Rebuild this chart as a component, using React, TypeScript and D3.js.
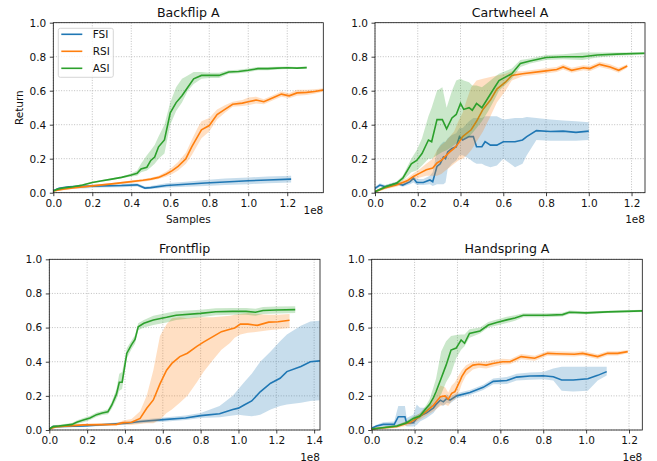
import React, { useEffect, useRef } from "react";
import * as d3 from "d3";

// [samples (1e8), mean return, lower, upper]
type Pt = [number, number, number, number];

const seriesNames = ["FSI", "RSI", "ASI"];
const seriesColors = ["#1f77b4", "#ff7f0e", "#2ca02c"];
const panelTitles = ["Backflip A", "Cartwheel A", "Frontflip", "Handspring A"];
const panelXMax = [1.385, 1.263, 1.431, 1.262];
const yTicks = [0, 0.2, 0.4, 0.6, 0.8, 1.0];

const backflipFSI: Pt[] = [
  [0, 0.012, 0.008, 0.016], [0.03, 0.026, 0.02, 0.032], [0.08, 0.034, 0.028, 0.04],
  [0.15, 0.037, 0.025, 0.045], [0.25, 0.04, 0.03, 0.05], [0.35, 0.042, 0.032, 0.052],
  [0.43, 0.046, 0.036, 0.056], [0.47, 0.027, 0.02, 0.036], [0.5, 0.03, 0.022, 0.04],
  [0.58, 0.042, 0.03, 0.055], [0.68, 0.05, 0.035, 0.065], [0.78, 0.057, 0.04, 0.075],
  [0.88, 0.063, 0.045, 0.083], [1.0, 0.07, 0.05, 0.09], [1.1, 0.075, 0.055, 0.095],
  [1.22, 0.08, 0.06, 0.1],
];
const backflipRSI: Pt[] = [
  [0, 0.01, 0.005, 0.015], [0.05, 0.02, 0.015, 0.025], [0.1, 0.028, 0.022, 0.034],
  [0.2, 0.04, 0.035, 0.045], [0.3, 0.052, 0.047, 0.057], [0.4, 0.065, 0.058, 0.072],
  [0.46, 0.073, 0.065, 0.08], [0.5, 0.08, 0.072, 0.088], [0.54, 0.09, 0.08, 0.1],
  [0.58, 0.11, 0.095, 0.125], [0.61, 0.13, 0.11, 0.15], [0.64, 0.155, 0.13, 0.18],
  [0.68, 0.2, 0.17, 0.235], [0.71, 0.27, 0.22, 0.31], [0.74, 0.33, 0.28, 0.38],
  [0.76, 0.37, 0.32, 0.42], [0.8, 0.395, 0.36, 0.44], [0.84, 0.46, 0.43, 0.49],
  [0.88, 0.49, 0.47, 0.515], [0.92, 0.52, 0.505, 0.535], [0.97, 0.527, 0.51, 0.545],
  [1.0, 0.535, 0.515, 0.56], [1.04, 0.545, 0.525, 0.565], [1.08, 0.535, 0.52, 0.55],
  [1.13, 0.56, 0.545, 0.575], [1.17, 0.58, 0.565, 0.595], [1.21, 0.57, 0.555, 0.585],
  [1.25, 0.587, 0.57, 0.605], [1.3, 0.59, 0.575, 0.605], [1.34, 0.595, 0.582, 0.608],
  [1.39, 0.605, 0.595, 0.615],
];
const backflipASI: Pt[] = [
  [0, 0.01, 0.005, 0.015], [0.02, 0.02, 0.015, 0.025], [0.05, 0.028, 0.022, 0.034],
  [0.1, 0.035, 0.03, 0.04], [0.15, 0.045, 0.04, 0.05], [0.2, 0.06, 0.055, 0.065],
  [0.25, 0.07, 0.065, 0.075], [0.3, 0.08, 0.075, 0.085], [0.35, 0.09, 0.085, 0.095],
  [0.4, 0.104, 0.095, 0.113], [0.43, 0.114, 0.1, 0.13], [0.45, 0.14, 0.12, 0.17],
  [0.48, 0.15, 0.13, 0.22], [0.5, 0.19, 0.15, 0.25], [0.52, 0.21, 0.17, 0.28],
  [0.54, 0.27, 0.2, 0.33], [0.57, 0.31, 0.23, 0.4], [0.6, 0.47, 0.4, 0.53],
  [0.63, 0.53, 0.48, 0.62], [0.66, 0.57, 0.53, 0.67], [0.69, 0.62, 0.6, 0.69],
  [0.72, 0.67, 0.64, 0.71], [0.76, 0.69, 0.67, 0.71], [0.8, 0.69, 0.675, 0.705],
  [0.85, 0.69, 0.675, 0.705], [0.9, 0.71, 0.7, 0.72], [0.95, 0.713, 0.703, 0.723],
  [1.0, 0.72, 0.71, 0.73], [1.05, 0.73, 0.72, 0.74], [1.1, 0.73, 0.72, 0.74],
  [1.15, 0.733, 0.725, 0.741], [1.2, 0.735, 0.727, 0.743], [1.25, 0.733, 0.727, 0.739],
  [1.3, 0.736, 0.73, 0.742],
];

const cartwheelFSI: Pt[] = [
  [0, 0.025, 0.015, 0.035], [0.023, 0.045, 0.035, 0.055], [0.047, 0.035, 0.025, 0.045],
  [0.1, 0.055, 0.045, 0.065], [0.13, 0.045, 0.035, 0.06], [0.164, 0.065, 0.05, 0.08],
  [0.18, 0.085, 0.06, 0.1], [0.195, 0.06, 0.045, 0.08], [0.226, 0.06, 0.045, 0.08],
  [0.257, 0.075, 0.05, 0.1], [0.27, 0.065, 0.04, 0.12], [0.29, 0.155, 0.05, 0.25],
  [0.305, 0.17, 0.05, 0.28], [0.32, 0.21, 0.05, 0.3], [0.33, 0.2, 0.06, 0.3],
  [0.34, 0.24, 0.14, 0.32], [0.36, 0.26, 0.17, 0.34], [0.38, 0.27, 0.19, 0.35],
  [0.395, 0.33, 0.22, 0.38], [0.41, 0.31, 0.22, 0.38], [0.44, 0.33, 0.2, 0.42],
  [0.46, 0.33, 0.18, 0.44], [0.475, 0.27, 0.17, 0.44], [0.5, 0.27, 0.17, 0.44],
  [0.515, 0.3, 0.16, 0.45], [0.54, 0.28, 0.15, 0.45], [0.57, 0.28, 0.16, 0.45],
  [0.6, 0.3, 0.2, 0.43], [0.655, 0.3, 0.15, 0.44], [0.69, 0.31, 0.17, 0.44],
  [0.71, 0.33, 0.22, 0.445], [0.755, 0.365, 0.31, 0.44], [0.82, 0.36, 0.305, 0.43],
  [0.88, 0.362, 0.305, 0.425], [0.94, 0.355, 0.305, 0.42], [1.0, 0.362, 0.31, 0.415],
];
const cartwheelRSI: Pt[] = [
  [0, 0.006, 0, 0.012], [0.05, 0.03, 0.02, 0.04], [0.1, 0.045, 0.035, 0.055],
  [0.15, 0.07, 0.055, 0.085], [0.18, 0.095, 0.075, 0.115], [0.21, 0.115, 0.09, 0.14],
  [0.24, 0.135, 0.1, 0.17], [0.27, 0.145, 0.1, 0.2], [0.29, 0.175, 0.1, 0.25],
  [0.31, 0.19, 0.11, 0.28], [0.33, 0.215, 0.13, 0.3], [0.35, 0.24, 0.15, 0.33],
  [0.37, 0.26, 0.17, 0.36], [0.39, 0.29, 0.19, 0.42], [0.41, 0.33, 0.2, 0.47],
  [0.43, 0.35, 0.22, 0.55], [0.45, 0.37, 0.25, 0.62], [0.475, 0.42, 0.3, 0.66],
  [0.505, 0.49, 0.36, 0.67], [0.54, 0.545, 0.45, 0.68], [0.57, 0.61, 0.53, 0.69],
  [0.61, 0.65, 0.6, 0.7], [0.64, 0.69, 0.66, 0.715], [0.69, 0.7, 0.685, 0.715],
  [0.79, 0.715, 0.7, 0.73], [0.85, 0.725, 0.71, 0.74], [0.88, 0.74, 0.725, 0.755],
  [0.92, 0.72, 0.705, 0.735], [0.975, 0.735, 0.72, 0.75], [1.005, 0.73, 0.715, 0.745],
  [1.05, 0.755, 0.74, 0.77], [1.1, 0.74, 0.725, 0.755], [1.14, 0.72, 0.705, 0.735],
  [1.18, 0.745, 0.735, 0.755],
];
const cartwheelASI: Pt[] = [
  [0, 0.006, 0, 0.012], [0.05, 0.035, 0.025, 0.045], [0.1, 0.055, 0.045, 0.065],
  [0.13, 0.085, 0.07, 0.1], [0.17, 0.17, 0.12, 0.2], [0.195, 0.19, 0.13, 0.25],
  [0.22, 0.23, 0.16, 0.32], [0.25, 0.31, 0.2, 0.45], [0.265, 0.3, 0.2, 0.5],
  [0.29, 0.43, 0.22, 0.6], [0.315, 0.43, 0.24, 0.62], [0.335, 0.375, 0.25, 0.5],
  [0.36, 0.44, 0.27, 0.6], [0.38, 0.46, 0.29, 0.66], [0.4, 0.525, 0.31, 0.67],
  [0.415, 0.49, 0.32, 0.66], [0.44, 0.5, 0.33, 0.65], [0.455, 0.485, 0.35, 0.63],
  [0.475, 0.525, 0.38, 0.63], [0.5, 0.5, 0.42, 0.62], [0.53, 0.56, 0.48, 0.65],
  [0.56, 0.62, 0.55, 0.68], [0.58, 0.66, 0.6, 0.7], [0.64, 0.7, 0.67, 0.73],
  [0.68, 0.76, 0.74, 0.78], [0.725, 0.775, 0.76, 0.79], [0.8, 0.795, 0.78, 0.81],
  [0.88, 0.8, 0.785, 0.815], [0.97, 0.8, 0.78, 0.825], [1.04, 0.81, 0.795, 0.825],
  [1.13, 0.815, 0.805, 0.825], [1.26, 0.82, 0.812, 0.828],
];

const frontflipFSI: Pt[] = [
  [0, 0.006, 0, 0.012], [0.02, 0.02, 0.014, 0.026], [0.18, 0.023, 0.017, 0.029],
  [0.41, 0.04, 0.032, 0.048], [0.48, 0.05, 0.04, 0.06], [0.62, 0.062, 0.05, 0.075],
  [0.72, 0.07, 0.058, 0.085], [0.8, 0.084, 0.07, 0.1], [0.9, 0.095, 0.075, 0.14],
  [0.97, 0.12, 0.085, 0.2], [1.0, 0.128, 0.09, 0.24], [1.03, 0.146, 0.085, 0.28],
  [1.07, 0.17, 0.08, 0.33], [1.115, 0.224, 0.09, 0.4], [1.17, 0.274, 0.12, 0.46],
  [1.22, 0.303, 0.14, 0.52], [1.256, 0.342, 0.15, 0.56], [1.33, 0.372, 0.16, 0.61],
  [1.38, 0.4, 0.17, 0.635], [1.43, 0.405, 0.175, 0.64],
];
const frontflipRSI: Pt[] = [
  [0, 0.006, 0, 0.012], [0.04, 0.02, 0.013, 0.027], [0.18, 0.03, 0.023, 0.037],
  [0.355, 0.033, 0.026, 0.04], [0.39, 0.043, 0.032, 0.055], [0.435, 0.045, 0.03, 0.065],
  [0.48, 0.068, 0.035, 0.11], [0.515, 0.127, 0.04, 0.2], [0.55, 0.176, 0.04, 0.35],
  [0.585, 0.27, 0.06, 0.55], [0.62, 0.35, 0.1, 0.62], [0.648, 0.39, 0.12, 0.655],
  [0.69, 0.43, 0.16, 0.66], [0.73, 0.45, 0.2, 0.655], [0.78, 0.49, 0.28, 0.66],
  [0.815, 0.515, 0.34, 0.66], [0.865, 0.547, 0.41, 0.66], [0.91, 0.576, 0.47, 0.665],
  [0.955, 0.59, 0.51, 0.67], [0.98, 0.598, 0.54, 0.675], [1.01, 0.62, 0.56, 0.68],
  [1.05, 0.62, 0.57, 0.685], [1.1, 0.613, 0.575, 0.68], [1.16, 0.632, 0.585, 0.675],
  [1.21, 0.634, 0.59, 0.675], [1.27, 0.643, 0.598, 0.68],
];
const frontflipASI: Pt[] = [
  [0, 0.006, 0, 0.012], [0.02, 0.02, 0.012, 0.028], [0.05, 0.023, 0.015, 0.031],
  [0.12, 0.033, 0.025, 0.041], [0.145, 0.045, 0.035, 0.055], [0.18, 0.058, 0.045, 0.07],
  [0.215, 0.07, 0.058, 0.082], [0.25, 0.09, 0.078, 0.102], [0.28, 0.1, 0.088, 0.112],
  [0.31, 0.107, 0.092, 0.122], [0.33, 0.145, 0.125, 0.165], [0.355, 0.21, 0.18, 0.24],
  [0.37, 0.28, 0.23, 0.33], [0.385, 0.28, 0.24, 0.34], [0.41, 0.45, 0.42, 0.48],
  [0.435, 0.5, 0.475, 0.525], [0.453, 0.53, 0.505, 0.555], [0.47, 0.605, 0.585, 0.625],
  [0.5, 0.625, 0.6, 0.645], [0.55, 0.645, 0.615, 0.67], [0.62, 0.66, 0.63, 0.685],
  [0.67, 0.672, 0.645, 0.695], [0.8, 0.683, 0.66, 0.705], [0.88, 0.693, 0.672, 0.713],
  [0.97, 0.695, 0.675, 0.715], [1.04, 0.695, 0.675, 0.715], [1.09, 0.69, 0.67, 0.71],
  [1.13, 0.7, 0.68, 0.72], [1.2, 0.703, 0.683, 0.723], [1.3, 0.705, 0.685, 0.725],
];

const handspringFSI: Pt[] = [
  [0, 0.01, 0.003, 0.017], [0.023, 0.023, 0.015, 0.031], [0.054, 0.033, 0.02, 0.045],
  [0.105, 0.033, 0.02, 0.05], [0.124, 0.078, 0.03, 0.14], [0.155, 0.078, 0.03, 0.14],
  [0.163, 0.04, 0.02, 0.07], [0.194, 0.043, 0.02, 0.09], [0.21, 0.068, 0.03, 0.15],
  [0.225, 0.082, 0.05, 0.13], [0.256, 0.1, 0.07, 0.13], [0.288, 0.13, 0.1, 0.16],
  [0.3, 0.15, 0.12, 0.18], [0.32, 0.175, 0.15, 0.2], [0.334, 0.165, 0.14, 0.19],
  [0.35, 0.185, 0.16, 0.21], [0.365, 0.175, 0.155, 0.195], [0.396, 0.2, 0.185, 0.215],
  [0.458, 0.22, 0.205, 0.235], [0.52, 0.25, 0.235, 0.265], [0.567, 0.285, 0.268, 0.302],
  [0.63, 0.29, 0.27, 0.31], [0.676, 0.31, 0.29, 0.33], [0.738, 0.316, 0.295, 0.337],
  [0.8, 0.318, 0.297, 0.34], [0.847, 0.312, 0.29, 0.36], [0.886, 0.293, 0.23, 0.37],
  [0.94, 0.293, 0.225, 0.37], [1.008, 0.3, 0.23, 0.37], [1.054, 0.32, 0.29, 0.37],
  [1.096, 0.342, 0.32, 0.37],
];
const handspringRSI: Pt[] = [
  [0, 0.006, 0, 0.012], [0.117, 0.02, 0.012, 0.028], [0.18, 0.045, 0.03, 0.06],
  [0.225, 0.08, 0.06, 0.1], [0.256, 0.11, 0.085, 0.135], [0.288, 0.145, 0.11, 0.18],
  [0.32, 0.195, 0.14, 0.26], [0.342, 0.2, 0.15, 0.25], [0.357, 0.18, 0.14, 0.22],
  [0.373, 0.215, 0.17, 0.26], [0.388, 0.225, 0.18, 0.28], [0.41, 0.283, 0.23, 0.33],
  [0.42, 0.313, 0.27, 0.35], [0.44, 0.352, 0.32, 0.38], [0.472, 0.38, 0.355, 0.4],
  [0.5, 0.385, 0.365, 0.402], [0.534, 0.38, 0.36, 0.4], [0.565, 0.39, 0.37, 0.41],
  [0.61, 0.4, 0.383, 0.417], [0.645, 0.4, 0.385, 0.415], [0.697, 0.43, 0.415, 0.445],
  [0.76, 0.42, 0.405, 0.435], [0.82, 0.449, 0.435, 0.463], [0.863, 0.447, 0.433, 0.461],
  [0.945, 0.444, 0.43, 0.458], [0.984, 0.449, 0.435, 0.463], [1.054, 0.43, 0.416, 0.444],
  [1.1, 0.449, 0.437, 0.461], [1.147, 0.449, 0.437, 0.461], [1.194, 0.459, 0.449, 0.469],
];
const handspringASI: Pt[] = [
  [0, 0.006, 0, 0.012], [0.117, 0.023, 0.015, 0.031], [0.163, 0.043, 0.033, 0.053],
  [0.194, 0.068, 0.055, 0.08], [0.225, 0.082, 0.068, 0.096], [0.256, 0.13, 0.11, 0.15],
  [0.27, 0.15, 0.125, 0.18], [0.288, 0.19, 0.16, 0.25], [0.3, 0.224, 0.18, 0.3],
  [0.324, 0.303, 0.21, 0.46], [0.347, 0.38, 0.28, 0.52], [0.37, 0.468, 0.33, 0.55],
  [0.394, 0.48, 0.42, 0.557], [0.417, 0.527, 0.47, 0.56], [0.433, 0.508, 0.49, 0.56],
  [0.456, 0.566, 0.54, 0.59], [0.505, 0.58, 0.565, 0.6], [0.544, 0.615, 0.6, 0.632],
  [0.583, 0.63, 0.612, 0.648], [0.63, 0.645, 0.627, 0.663], [0.668, 0.656, 0.64, 0.672],
  [0.707, 0.672, 0.66, 0.684], [0.816, 0.672, 0.66, 0.684], [0.89, 0.676, 0.665, 0.687],
  [0.922, 0.69, 0.68, 0.7], [1.0, 0.686, 0.678, 0.694], [1.1, 0.692, 0.685, 0.699],
  [1.262, 0.698, 0.692, 0.704],
];

const panelSeries = [
  [backflipFSI, backflipRSI, backflipASI],
  [cartwheelFSI, cartwheelRSI, cartwheelASI],
  [frontflipFSI, frontflipRSI, frontflipASI],
  [handspringFSI, handspringRSI, handspringASI],
];

// plot boxes in page pixels: left, top, right, bottom
const boxes = [
  [53.3, 22.7, 323.3, 192.7],
  [375, 22.7, 645, 192.7],
  [49.3, 259.3, 320, 430],
  [371.7, 259.3, 642.3, 430],
];
// baseline offset of the "1e8" multiplier below each axis
const offsetDy = [21, 30, 30.5, 30.5];

const font = "DejaVu Sans, sans-serif";

export default function App() {
  const ref = useRef<SVGSVGElement>(null);

  useEffect(() => {
    const svg = d3.select(ref.current);
    svg.selectAll("*").remove();

    panelTitles.forEach((title, i) => {
      const [l, t, r, b] = boxes[i];
      const x = d3.scaleLinear().domain([0, panelXMax[i]]).range([l, r]);
      const y = d3.scaleLinear().domain([0, 1]).range([b, t]);
      const g = svg.append("g");

      g.append("clipPath")
        .attr("id", "clip" + i)
        .append("rect")
        .attr("x", l)
        .attr("y", t)
        .attr("width", r - l)
        .attr("height", b - t);

      const xTicks = d3.range(0, panelXMax[i] + 1e-9, 0.2);

      // grid
      g.selectAll(".gx")
        .data(xTicks)
        .join("line")
        .attr("x1", (d) => x(d))
        .attr("x2", (d) => x(d))
        .attr("y1", t)
        .attr("y2", b)
        .attr("stroke", "#b0b0b0")
        .attr("stroke-width", 0.8)
        .attr("stroke-dasharray", "1,1.6");
      g.selectAll(".gy")
        .data(yTicks)
        .join("line")
        .attr("x1", l)
        .attr("x2", r)
        .attr("y1", (d) => y(d))
        .attr("y2", (d) => y(d))
        .attr("stroke", "#b0b0b0")
        .attr("stroke-width", 0.8)
        .attr("stroke-dasharray", "1,1.6");

      const plot = g.append("g").attr("clip-path", `url(#clip${i})`);
      const area = d3
        .area<Pt>()
        .x((d) => x(d[0]))
        .y0((d) => y(d[2]))
        .y1((d) => y(d[3]));
      const line = d3
        .line<Pt>()
        .x((d) => x(d[0]))
        .y((d) => y(d[1]));

      panelSeries[i].forEach((s, k) => {
        plot
          .append("path")
          .attr("d", area(s))
          .attr("fill", seriesColors[k])
          .attr("fill-opacity", 0.25);
        plot
          .append("path")
          .attr("d", line(s))
          .attr("fill", "none")
          .attr("stroke", seriesColors[k])
          .attr("stroke-width", 1.6);
      });

      // axes
      const xAxis = d3
        .axisBottom(x)
        .tickValues(xTicks)
        .tickFormat(d3.format(".1f"))
        .tickSize(3.5)
        .tickPadding(3.5);
      const yAxis = d3
        .axisLeft(y)
        .tickValues(yTicks)
        .tickFormat(d3.format(".1f"))
        .tickSize(3.5)
        .tickPadding(3.5);
      const gx = g.append("g").attr("transform", `translate(0,${b})`).call(xAxis);
      const gy = g.append("g").attr("transform", `translate(${l},0)`).call(yAxis);
      [gx, gy].forEach((a) => {
        a.select(".domain").remove();
        a.selectAll("text")
          .attr("font-family", font)
          .attr("font-size", 10.5)
          .attr("fill", "#111");
        a.selectAll("line").attr("stroke", "#111").attr("stroke-width", 0.8);
      });

      g.append("rect")
        .attr("x", l)
        .attr("y", t)
        .attr("width", r - l)
        .attr("height", b - t)
        .attr("fill", "none")
        .attr("stroke", "#111")
        .attr("stroke-width", 0.8);

      g.append("text")
        .attr("x", (l + r) / 2)
        .attr("y", t - 6)
        .attr("text-anchor", "middle")
        .attr("font-family", font)
        .attr("font-size", 12.6)
        .attr("fill", "#111")
        .text(title);

      g.append("text")
        .attr("x", r)
        .attr("y", b + offsetDy[i])
        .attr("text-anchor", "end")
        .attr("font-family", font)
        .attr("font-size", 10.5)
        .attr("fill", "#111")
        .text("1e8");

      if (i === 0) {
        g.append("text")
          .attr("x", (l + r) / 2)
          .attr("y", b + 30)
          .attr("text-anchor", "middle")
          .attr("font-family", font)
          .attr("font-size", 10.5)
          .attr("fill", "#111")
          .text("Samples");
        g.append("text")
          .attr("transform", `translate(${l - 30},${(t + b) / 2}) rotate(-90)`)
          .attr("text-anchor", "middle")
          .attr("font-family", font)
          .attr("font-size", 10.5)
          .attr("fill", "#111")
          .text("Return");

        const lg = g.append("g");
        lg.append("rect")
          .attr("x", l + 5)
          .attr("y", t + 5.6)
          .attr("width", 55)
          .attr("height", 49)
          .attr("rx", 2)
          .attr("fill", "white")
          .attr("fill-opacity", 0.8)
          .attr("stroke", "#cccccc")
          .attr("stroke-width", 0.8);
        seriesNames.forEach((name, k) => {
          const cy = t + 11.6 + k * 17;
          lg.append("line")
            .attr("x1", l + 8)
            .attr("x2", l + 29)
            .attr("y1", cy)
            .attr("y2", cy)
            .attr("stroke", seriesColors[k])
            .attr("stroke-width", 1.6);
          lg.append("text")
            .attr("x", l + 39.4)
            .attr("y", cy + 4)
            .attr("font-family", font)
            .attr("font-size", 10.5)
            .attr("fill", "#111")
            .text(name);
        });
      }
    });
  }, []);

  return (
    <svg
      ref={ref}
      width={657}
      height={461}
      style={{ position: "absolute", left: 0, top: 0, background: "white" }}
    />
  );
}
